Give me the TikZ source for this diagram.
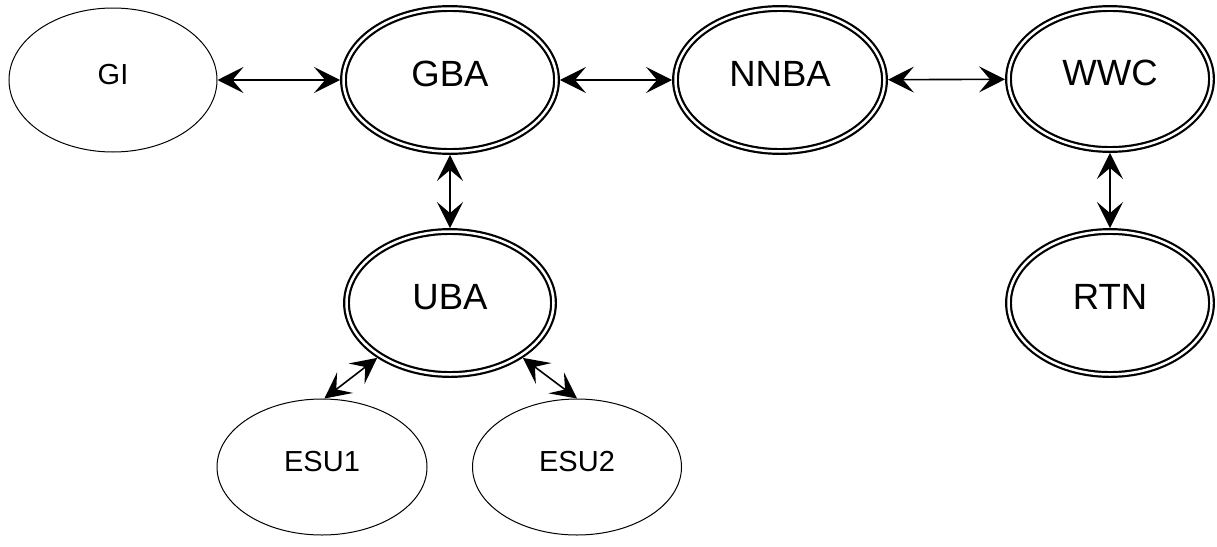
\documentclass[tikz,border=0pt]{standalone}
\usepackage{fontspec}
\setmainfont{Liberation Sans}
\usetikzlibrary{shapes.geometric,arrows.meta}
\begin{document}
\begin{tikzpicture}[x=1pt,y=-1pt,
  single/.style={ellipse,draw,line width=1pt,inner sep=0pt,text depth=12pt,font=\fontsize{29}{32}\selectfont},
  dbl/.style={ellipse,draw,line width=2.2pt,double,double distance=2.5pt,inner sep=0pt,outer sep=3.45pt,text depth=12pt,font=\fontsize{36.5}{40}\selectfont},
  link/.style={line width=1.6pt,{Stealth[length=26pt,width=26pt,inset=11pt]}-{Stealth[length=26pt,width=26pt,inset=11pt]}}]
\useasboundingbox (0,0) rectangle (1217,546);
\node[single,minimum width=208pt,minimum height=144pt] (GI) at (113,80) {GI};
\node[dbl,minimum width=213pt,minimum height=143pt] (GBA) at (450,80) {GBA};
\node[dbl,minimum width=209pt,minimum height=143pt] (NNBA) at (780,80) {NNBA};
\node[dbl,minimum width=203pt,minimum height=141pt] (WWC) at (1110,79) {WWC};
\node[dbl,minimum width=207pt,minimum height=143pt] (UBA) at (450,303) {UBA};
\node[dbl,minimum width=203pt,minimum height=143pt] (RTN) at (1110,303) {RTN};
\node[single,minimum width=210pt,minimum height=136pt] (ESU1) at (322,467) {ESU1};
\node[single,minimum width=209pt,minimum height=136pt] (ESU2) at (577,467) {ESU2};
\draw[link] (GI) -- (GBA);
\draw[link] (GBA) -- (NNBA);
\draw[link] (NNBA) -- (WWC);
\draw[link] (GBA) -- (UBA);
\draw[link] (WWC) -- (RTN);
\draw[link] (UBA.217) -- (ESU1.88);
\draw[link] (UBA.323) -- (ESU2.90);
\end{tikzpicture}
\end{document}
